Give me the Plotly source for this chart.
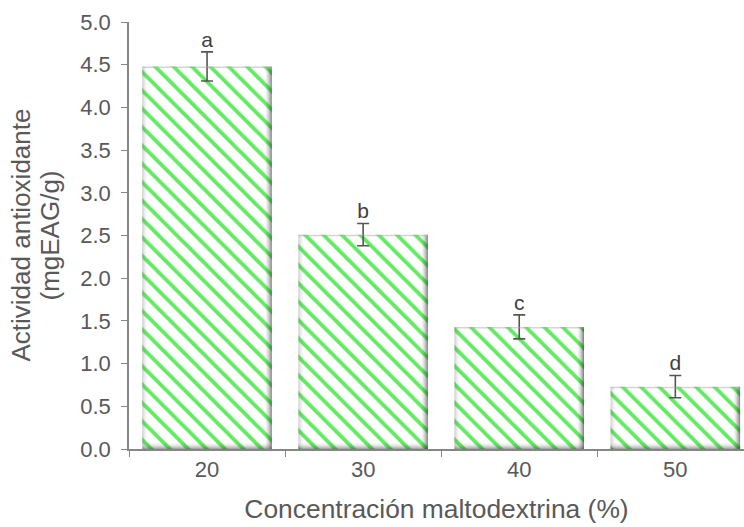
import plotly.graph_objects as go

# Antioxidant activity by maltodextrin concentration
concentraciones = ["20", "30", "40", "50"]
actividad = [4.48, 2.51, 1.43, 0.73]
error = [0.17, 0.13, 0.14, 0.13]
letras = ["a", "b", "c", "d"]
titulo_y = ["Actividad antioxidante", "(mgEAG/g)"]
ticks_y = [0, 0.5, 1, 1.5, 2, 2.5, 3, 3.5, 4, 4.5, 5]
etiquetas_y = ["0.0", "0.5", "1.0", "1.5", "2.0", "2.5", "3.0", "3.5", "4.0", "4.5", "5.0"]

gris = "#595959"
eje = "#868686"
ancho = 0.83
fuente = "Liberation Sans, Arial"

fig = go.Figure()
fig.add_trace(go.Bar(
    x=concentraciones,
    y=actividad,
    width=ancho,
    marker=dict(
        color="white",
        line=dict(width=0),
        pattern=dict(shape="\\", fgcolor="#62ea62", bgcolor="white",
                     size=13, solidity=0.3, fillmode="replace"),
    ),
    error_y=dict(type="data", array=error, visible=True,
                 color="#555555", thickness=1.6, width=6),
    hoverinfo="skip",
))

# significance letters above each error bar
fig.add_trace(go.Scatter(
    x=concentraciones,
    y=[v + e for v, e in zip(actividad, error)],
    mode="text",
    text=letras,
    textposition="top center",
    textfont=dict(family=fuente, size=21, color="#404040"),
    hoverinfo="skip",
    showlegend=False,
))

# bevelled edges on each bar: stacked translucent strips, pixel-sized,
# anchored at the bar's own edges in data coordinates
shapes = []
for i, v in enumerate(actividad):
    left, right = i - ancho / 2, i + ancho / 2
    # right edge: dark shade fading inward
    for k, op in enumerate([0.55, 0.42, 0.3, 0.2, 0.12, 0.06]):
        shapes.append(dict(type="rect", xref="x", yref="y", xsizemode="pixel",
                           xanchor=right, x0=-k - 1, x1=-k, y0=0, y1=v,
                           fillcolor=f"rgba(40,40,40,{op})", line_width=0, layer="above"))
    # bottom edge
    for k, op in enumerate([0.45, 0.32, 0.22, 0.14, 0.08, 0.04]):
        shapes.append(dict(type="rect", xref="x", yref="y", ysizemode="pixel",
                           yanchor=0, y0=k, y1=k + 1, x0=left, x1=right,
                           fillcolor=f"rgba(60,60,60,{op})", line_width=0, layer="above"))
    # left edge: lighter shade
    for k, op in enumerate([0.28, 0.18, 0.11, 0.06, 0.03]):
        shapes.append(dict(type="rect", xref="x", yref="y", xsizemode="pixel",
                           xanchor=left, x0=k, x1=k + 1, y0=0, y1=v,
                           fillcolor=f"rgba(90,90,90,{op})", line_width=0, layer="above"))
    # top edge: faint highlight line
    shapes.append(dict(type="rect", xref="x", yref="y", ysizemode="pixel",
                       yanchor=v, y0=-1.5, y1=0, x0=left, x1=right,
                       fillcolor="rgba(170,170,170,0.5)", line_width=0, layer="above"))

# two-line y-axis title, one annotation per line
annotations = []
for linea, dx in zip(titulo_y, [-109, -80]):
    annotations.append(dict(
        text=linea, textangle=-90, showarrow=False,
        xref="paper", yref="paper", x=0, y=0.5, xshift=dx,
        xanchor="center", yanchor="middle",
        font=dict(family=fuente, size=26, color=gris),
    ))

fig.update_layout(
    width=744, height=527,
    margin=dict(l=129, r=0, t=22, b=78),
    paper_bgcolor="white", plot_bgcolor="white",
    showlegend=False,
    font=dict(family=fuente, color=gris),
    shapes=shapes,
    annotations=annotations,
)
fig.update_xaxes(
    type="category",
    range=[-0.5, 3.44],
    showline=True, linecolor=eje, linewidth=1.5,
    ticks="outside", tickson="boundaries", ticklen=6, tickcolor=eje,
    tickfont=dict(size=22, color=gris),
    title=dict(text="Concentración maltodextrina (%)", font=dict(size=26.4, color=gris), standoff=18),
    showgrid=False, zeroline=False,
)
fig.update_yaxes(
    range=[0, 5],
    tickmode="array",
    tickvals=ticks_y,
    ticktext=[t + "\u00a0" for t in etiquetas_y],
    showline=True, linecolor=eje, linewidth=1.5,
    ticks="outside", ticklen=6, tickcolor=eje,
    tickfont=dict(size=22, color=gris),
    showgrid=False, zeroline=False,
)

fig.write_html("out.html")
